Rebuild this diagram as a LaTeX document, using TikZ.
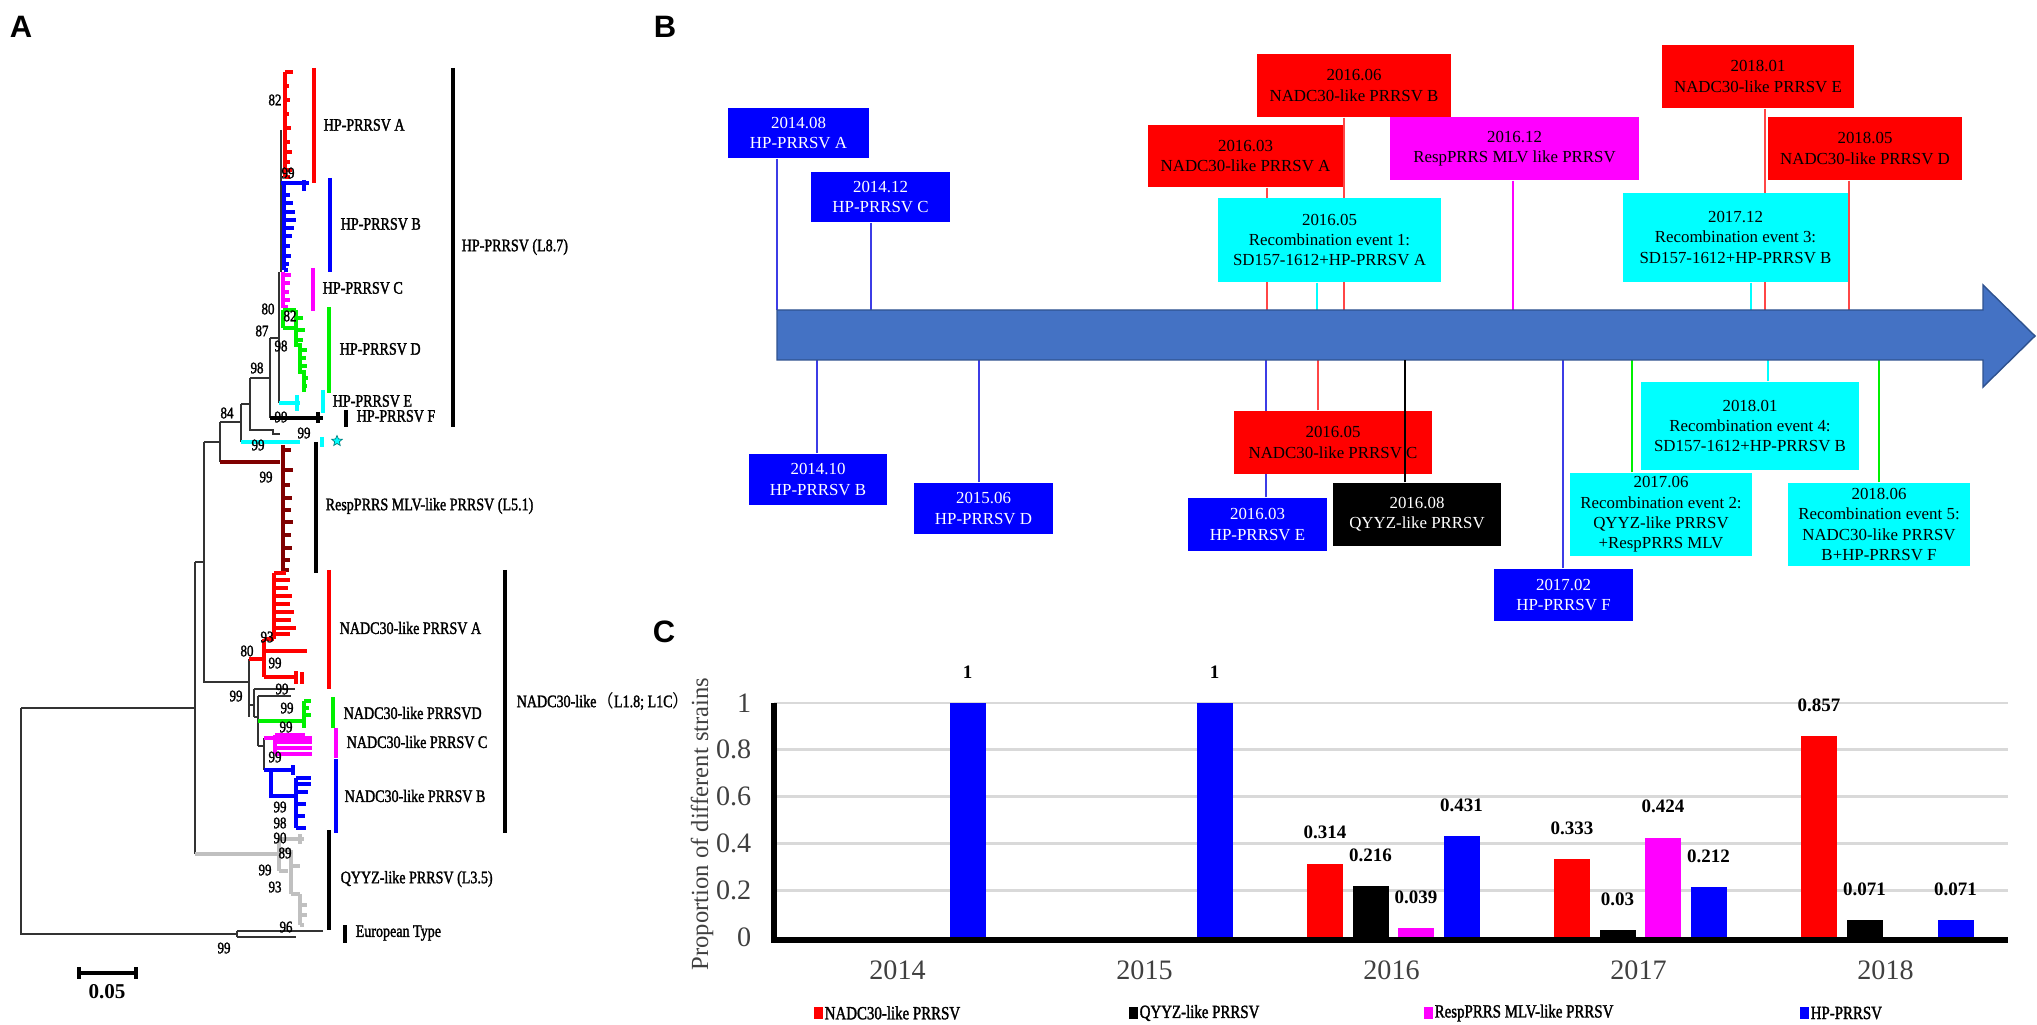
\documentclass[tikz,border=0pt]{standalone}
\usepackage{fontspec}
\setmainfont{Liberation Serif}
\newfontfamily\panelfont{Liberation Sans}
\newfontfamily\treefont[FakeStretch=0.8,FakeBold=1.6]{Liberation Serif}
\newfontfamily\cjk{Noto Sans CJK SC}
\usetikzlibrary{shapes.geometric,backgrounds}

\definecolor{hpblue}{RGB}{0,0,255}
\definecolor{nared}{RGB}{255,0,0}
\definecolor{recyan}{RGB}{0,255,255}
\definecolor{rmag}{RGB}{255,0,255}
\definecolor{lgreen}{RGB}{0,240,0}
\definecolor{maroon}{RGB}{128,0,0}
\definecolor{qgrey}{RGB}{192,192,192}
\definecolor{arrowblue}{RGB}{68,114,196}
\definecolor{arrowedge}{RGB}{47,82,143}
\definecolor{gridgrey}{RGB}{217,217,217}
\definecolor{axtext}{RGB}{64,64,64}

\begin{document}
\begin{tikzpicture}[x=0.01cm, y=-0.01cm,
  panel/.style={inner sep=0pt, font=\panelfont\bfseries\fontsize{8.8}{10}\selectfont},
  tb/.style={draw=black!80, line width=0.3pt},
  clade/.style={line width=0.9pt},
  cbar/.style={line width=1.2pt},
  tlab/.style={anchor=west, inner sep=0pt, font=\treefont\fontsize{5}{6}\selectfont},
  bs/.style={inner sep=0pt, font=\treefont\fontsize{4.6}{6}\selectfont},
  event/.style={inner sep=0pt, align=center, font=\fontsize{4.8}{5.8}\selectfont},
  hpbox/.style={event, fill=hpblue, text=white},
  nabox/.style={event, fill=nared},
  rebox/.style={event, fill=recyan},
  mgbox/.style={event, fill=rmag},
  qybox/.style={event, fill=black, text=white},
  hpline/.style={draw={rgb,255:red,60;green,60;blue,230}, line width=0.4pt},
  naline/.style={draw={rgb,255:red,255;green,70;blue,70}, line width=0.4pt},
  reline/.style={draw=recyan, line width=0.4pt},
  mgline/.style={draw=rmag, line width=0.4pt},
  grline/.style={draw=lgreen, line width=0.4pt},
  qyline/.style={draw=black, line width=0.4pt},
  grid/.style={draw=gridgrey, line width=0.8pt},
  ytick/.style={anchor=east, inner sep=0pt, text=axtext, font=\fontsize{8}{9}\selectfont},
  year/.style={inner sep=0pt, text=axtext, font=\fontsize{8}{9}\selectfont},
  vlab/.style={inner sep=0pt, font=\bfseries\fontsize{5.4}{6}\selectfont},
  leg/.style={anchor=west, inner sep=0pt, font=\treefont\fontsize{5.3}{6}\selectfont}]

  \useasboundingbox (0,0) rectangle (2037,1025);

  % Panel labels
  \node[panel] (labA) at (21,27) {A};
  \node[panel] (labB) at (665,27) {B};
  \node[panel] (labC) at (664,632) {C};

  % ---------------- A: tree ----------------
  % Backbone
  \draw[tb] (281,130) -- (281,272) (279,272) -- (279,403);
  \draw[tb] (270,338) -- (279,338) (270,338) -- (270,418);
  \draw[tb] (250,378) -- (270,378) (250,378) -- (250,430) -- (273,430) -- (273,434) -- (280,434);
  \draw[tb] (241,404) -- (250,404) (241,404) -- (241,442);
  \draw[tb] (220,422) -- (241,422) (220,422) -- (220,462);
  \draw[tb] (204,442) -- (220,442) (204,442) -- (204,682) -- (249,682);
  \draw[tb] (195,562) -- (204,562) (195,562) -- (195,854);
  \draw[tb] (21,708) -- (195,708) (21,708) -- (21,934) -- (237,934);
  \draw[tb] (237,931) -- (237,937) (237,931) -- (323,931) (237,937) -- (296,937);
  \draw[tb] (249,659) -- (249,717) (249,705) -- (254,705);
  \draw[tb] (254,689) -- (254,717) (254,689) -- (295,689) (254,717) -- (258,717);
  \draw[tb] (258,696) -- (258,746) (258,696) -- (291,696) (258,746) -- (264,746) (264,738) -- (264,770);

  % HP-PRRSV A
  \draw[clade, nared] (285,72) -- (285,177);
  \foreach \y/\l in {72/293,86/289,100/290,114/289,128/291,142/290,152/292,162/290,170/292,177/290}
    \draw[clade, nared] (285,\y) -- (\l,\y);
  % HP-PRRSV B
  \draw[clade, hpblue] (281,183) -- (309,183) (304,180) -- (304,191) (284,183) -- (284,270);
  \foreach \y/\l in {195/290,203/293,212/295,220/296,228/294,236/292,246/290,256/291,264/289,270/288}
    \draw[clade, hpblue] (284,\y) -- (\l,\y);
  % HP-PRRSV C
  \draw[clade, rmag] (283,272) -- (283,308);
  \foreach \y/\l in {275/291,283/290,292/289,300/290,307/288}
    \draw[clade, rmag] (283,\y) -- (\l,\y);
  % HP-PRRSV D
  \draw[clade, lgreen] (283,310) -- (283,328) (283,310) -- (296,310) (283,328) -- (296,328)
    (296,310) -- (296,345) -- (300,345) -- (300,372) -- (304,372) -- (304,392);
  \foreach \x/\y/\l in {296/318/303,296/330/305,296/340/303,300/350/307,300/358/306,300/366/307,304/378/308,304/386/307}
    \draw[clade, lgreen] (\x,\y) -- (\l,\y);
  % HP-PRRSV E, F
  \draw[clade, recyan] (279,403) -- (300,403) (297,395) -- (297,411);
  \draw[clade, black] (270,418) -- (323,418) (318,412) -- (318,423);
  \draw[clade, recyan] (241,442) -- (300,442);
  % RespPRRS MLV-like
  \draw[clade, maroon] (220,462) -- (280,462) (283,445) -- (283,573);
  \foreach \y/\l in {450/291,470/293,485/290,498/292,510/291,522/293,535/291,548/292,560/290,570/289}
    \draw[clade, maroon] (283,\y) -- (\l,\y);
  % NADC30-like A
  \draw[clade, nared] (249,659) -- (264,659) (264,639) -- (264,677) (264,639) -- (274,639) (274,573) -- (274,639)
    (264,651) -- (307,651) (264,677) -- (296,677) (296,671) -- (296,684) (302,672) -- (302,684);
  \foreach \y/\l in {573/286,580/290,588/288,596/292,604/290,612/294,620/291,628/296,634/290}
    \draw[clade, nared] (274,\y) -- (\l,\y);
  % NADC30-like D, C, B
  \draw[clade, lgreen] (258,721) -- (304,721) (304,701) -- (304,728);
  \foreach \y/\l in {701/311,708/309,715/311}
    \draw[clade, lgreen] (304,\y) -- (\l,\y);
  \draw[clade, rmag] (264,738) -- (312,738) (275,735) -- (275,754);
  \foreach \y/\l in {735/305,742/312,748/312,754/312}
    \draw[clade, rmag] (275,\y) -- (\l,\y);
  \draw[clade, hpblue] (264,770) -- (293,770) (293,765) -- (293,775) (271,770) -- (271,796) -- (296,796) (296,778) -- (296,828);
  \foreach \y/\l in {778/311,784/311,792/308,804/306,816/305,828/306}
    \draw[clade, hpblue] (296,\y) -- (\l,\y);
  % QYYZ-like
  \draw[clade, qgrey] (195,854) -- (279,854) (279,839) -- (279,871) (279,839) -- (304,839) (300,834) -- (300,844)
    (279,850) -- (291,850) (291,850) -- (291,894) (291,866) -- (300,866) (279,871) -- (288,871)
    (291,894) -- (300,894) (300,894) -- (300,925) (300,905) -- (307,905) (300,915) -- (307,915) (300,925) -- (304,925);

  % Clade bars
  \draw[cbar, nared] (314,68) -- (314,183);
  \draw[cbar, hpblue] (330,178) -- (330,272);
  \draw[cbar, rmag] (313,268) -- (313,311);
  \draw[cbar, lgreen] (329,307) -- (329,393);
  \draw[cbar, recyan] (323,390) -- (323,413);
  \draw[cbar, black] (346,410) -- (346,427);
  \draw[cbar, black] (453,68) -- (453,427);
  \draw[cbar, recyan] (322,437) -- (322,447);
  \draw[cbar, black] (316,442) -- (316,573);
  \draw[cbar, nared] (329,570) -- (329,689);
  \draw[cbar, lgreen] (333,697) -- (333,728);
  \draw[cbar, rmag] (336,728) -- (336,758);
  \draw[cbar, hpblue] (336,759) -- (336,833);
  \draw[cbar, black] (505,570) -- (505,833);
  \draw[cbar, black] (329,830) -- (329,930);
  \draw[cbar, black] (345,925) -- (345,943);
  \node[star, star points=5, star point ratio=2.2, fill=recyan, draw=teal, line width=0.2pt,
    minimum size=0.11cm, inner sep=0pt] (hpstar) at (337,441) {};

  % Clade labels
  \node[tlab] (tA) at (323,125) {HP-PRRSV A};
  \node[tlab] (tB) at (340,224) {HP-PRRSV B};
  \node[tlab] (tC) at (322,288) {HP-PRRSV C};
  \node[tlab] (tD) at (339,349) {HP-PRRSV D};
  \node[tlab] (tE) at (332,401) {HP-PRRSV E};
  \node[tlab] (tF) at (356,416) {HP-PRRSV F};
  \node[tlab] (tHP) at (461,247) {HP-PRRSV (L8.7)};
  \node[tlab] (tResp) at (325,506) {RespPRRS MLV-like PRRSV (L5.1)};
  \node[tlab] (tNA) at (339,628) {NADC30-like PRRSV A};
  \node[tlab] (tND) at (343,713) {NADC30-like PRRSVD};
  \node[tlab] (tNC) at (346,742) {NADC30-like PRRSV C};
  \node[tlab] (tNB) at (344,796) {NADC30-like PRRSV B};
  \node[tlab] (tNADC) at (516,701) {NADC30-like{\cjk （}L1.8; L1C{\cjk ）}};
  \node[tlab] (tQY) at (340,879) {QYYZ-like PRRSV (L3.5)};
  \node[tlab] (tEU) at (355,933) {European Type};

  % Bootstrap values
  \foreach \x/\y/\t [count=\i] in {275/100/82,288/173/99,268/309/80,290/316/82,262/331/87,281/346/98,
      257/368/98,281/417/99,227/413/84,304/433/99,258/445/99,266/477/99,247/651/80,267/637/93,
      275/663/99,236/696/99,282/689/99,287/708/99,286/727/99,275/757/99,280/807/99,280/823/98,
      280/838/90,285/853/89,265/870/99,275/887/93,286/927/96,224/948/99}
    \node[bs] (bs\i) at (\x,\y) {\t};

  % Scale bar
  \draw[line width=1.2pt] (79,973) -- (136,973) (79,967) -- (79,979) (136,967) -- (136,979);
  \node[inner sep=0pt, font=\bfseries\fontsize{6}{7}\selectfont] (scale) at (107,992) {0.05};

  % ---------------- B: time line ----------------
  \draw[fill=arrowblue, draw=arrowedge, line width=0.4pt]
    (777,310) -- (1983,310) -- (1983,285) -- (2035,336) -- (1983,387) -- (1983,360) -- (777,360) -- cycle;

  % Boxes above the arrow
  \node[hpbox, minimum width=1.41cm, minimum height=0.50cm] (b1408) at (798.5,133) {2014.08\\HP-PRRSV A};
  \node[hpbox, minimum width=1.39cm, minimum height=0.50cm] (b1412) at (880.5,197) {2014.12\\HP-PRRSV C};
  \node[nabox, minimum width=1.95cm, minimum height=0.62cm] (b1603) at (1245.5,156) {2016.03\\NADC30-like PRRSV A};
  \node[nabox, minimum width=1.94cm, minimum height=0.63cm] (b1606) at (1354,85.5) {2016.06\\NADC30-like PRRSV B};
  \node[rebox, minimum width=2.23cm, minimum height=0.84cm] (r1605) at (1329.5,240) {2016.05\\Recombination event 1:\\SD157-1612+HP-PRRSV A};
  \node[mgbox, minimum width=2.49cm, minimum height=0.63cm] (b1612) at (1514.5,148.5) {2016.12\\RespPRRS MLV like PRRSV};
  \node[nabox, minimum width=1.92cm, minimum height=0.63cm] (b1801) at (1758,76.5) {2018.01\\NADC30-like PRRSV E};
  \node[nabox, minimum width=1.94cm, minimum height=0.63cm] (b1805) at (1865,148.5) {2018.05\\NADC30-like PRRSV D};
  \node[rebox, minimum width=2.25cm, minimum height=0.89cm] (r1712) at (1735.5,237.5) {2017.12\\Recombination event 3:\\SD157-1612+HP-PRRSV B};

  % Boxes below the arrow
  \node[hpbox, minimum width=1.38cm, minimum height=0.51cm] (b1410) at (818,479.5) {2014.10\\HP-PRRSV B};
  \node[hpbox, minimum width=1.39cm, minimum height=0.51cm] (b1506) at (983.5,508.5) {2015.06\\HP-PRRSV D};
  \node[nabox, minimum width=1.98cm, minimum height=0.63cm] (b1605) at (1333,442.5) {2016.05\\NADC30-like PRRSV C};
  \node[hpbox, minimum width=1.39cm, minimum height=0.53cm] (b1603e) at (1257.5,524.5) {2016.03\\HP-PRRSV E};
  \node[qybox, minimum width=1.68cm, minimum height=0.63cm] (b1608) at (1417,514.5) {2016.08\\QYYZ-like PRRSV};
  \node[hpbox, minimum width=1.39cm, minimum height=0.52cm] (b1702) at (1563.5,595) {2017.02\\HP-PRRSV F};
  \node[rebox, minimum width=1.82cm, minimum height=0.83cm] (r1706) at (1661,514.5) {2017.06\\Recombination event 2:\\QYYZ-like PRRSV\\+RespPRRS MLV};
  \node[rebox, minimum width=2.18cm, minimum height=0.88cm] (r1801) at (1750,426) {2018.01\\Recombination event 4:\\SD157-1612+HP-PRRSV B};
  \node[rebox, minimum width=1.82cm, minimum height=0.83cm] (r1806) at (1879,524.5) {2018.06\\Recombination event 5:\\NADC30-like PRRSV\\B+HP-PRRSV F};

  % Leader lines
  \begin{pgfonlayer}{background}
    \foreach \b/\x/\s in {b1408/777/hpline, b1412/871/hpline, b1603/1267/naline, b1606/1344/naline,
        r1605/1317/reline, b1612/1513/mgline, b1801/1765/naline, b1805/1849/naline, r1712/1751/reline}
      \draw[\s] (\b.south -| \x,310) -- (\x,310);
    \foreach \b/\x/\s in {b1410/817/hpline, b1506/979/hpline, b1605/1318/naline, b1603e/1266/hpline,
        b1702/1563/hpline, r1706/1632/grline, r1801/1768/reline, r1806/1879/grline}
      \draw[\s] (\b.north -| \x,360) -- (\x,360);
  \end{pgfonlayer}
  \draw[qyline] (b1608.north -| 1405,360) -- (1405,360);

  % ---------------- C: bar chart ----------------
  \foreach \v in {0.2,0.4,0.6,0.8,1}
    \draw[grid] (774,{937-234*\v}) -- (2008,{937-234*\v});
  \foreach \v/\t [count=\i] in {0/0,0.2/0.2,0.4/0.4,0.6/0.6,0.8/0.8,1/1}
    \node[ytick] (yt\i) at (752,{937-234*\v}) {\t};
  \foreach \yr [count=\i from 0] in {2014,2015,2016,2017,2018}
    \node[year] (yr\yr) at ({774+247*\i+123.5},970) {\yr};
  \node[rotate=90, inner sep=0pt, text=axtext, font=\fontsize{7}{8}\selectfont] (ytitle) at (702,824) {Proportion of different strains};

  % Bars
  \foreach \c/\k/\v/\col [count=\i] in {0/3/1/hpblue, 1/3/1/hpblue,
      2/0/0.314/nared, 2/1/0.216/black, 2/2/0.039/rmag, 2/3/0.431/hpblue,
      3/0/0.333/nared, 3/1/0.03/black, 3/2/0.424/rmag, 3/3/0.212/hpblue,
      4/0/0.857/nared, 4/1/0.071/black, 4/3/0.071/hpblue} {
    \pgfmathsetmacro\xc{774+247*\c+57+45.5*\k}
    \fill[\col] ({\xc-18},937) rectangle ({\xc+18},{937-234*\v});
    \node[vlab] (val\i) at (\xc,{906-234*\v}) {\v};
  }
  \draw[line width=1.7pt] (774,703) -- (774,940) -- (2008,940);

  % Legend
  \foreach \x/\col/\t [count=\i] in {814/nared/NADC30-like PRRSV, 1129/black/QYYZ-like PRRSV,
      1424/rmag/RespPRRS MLV-like PRRSV, 1800/hpblue/HP-PRRSV} {
    \fill[\col] (\x,1007) rectangle ({\x+9},1019);
    \node[leg] (leg\i) at ({\x+10},1013) {\t};
  }
\end{tikzpicture}
\end{document}
